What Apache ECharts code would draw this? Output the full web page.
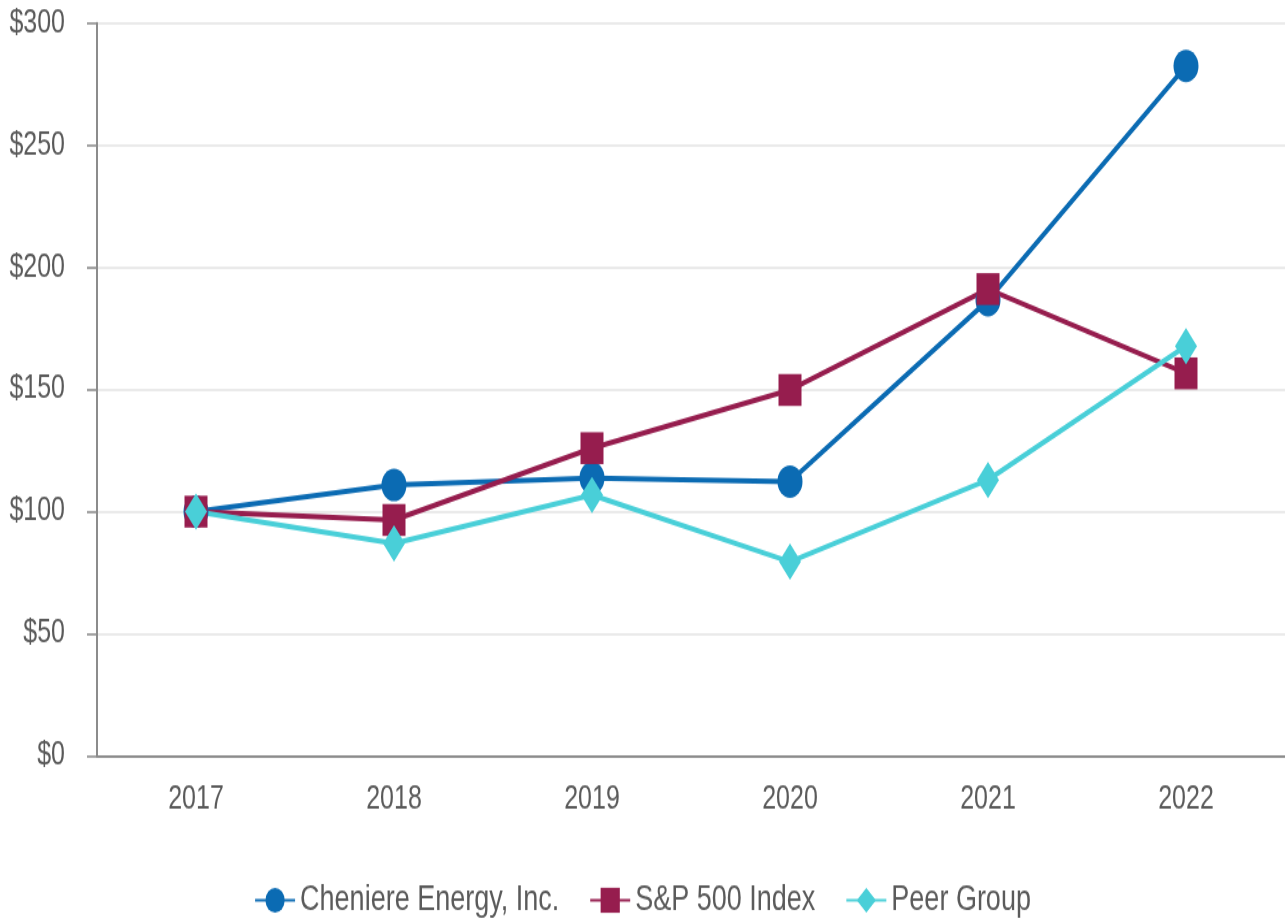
<!DOCTYPE html>
<html>
<head>
<meta charset="utf-8">
<script src="https://cdn.jsdelivr.net/npm/echarts@6/dist/echarts.min.js"></script>
<style>
  html, body { margin: 0; padding: 0; background: #fff; overflow: hidden; }
  #wrap { width: 1285px; height: 921px; overflow: hidden; }
  /* the source picture is stretched vertically, so draw at 1/1.3 height and stretch */
  #chart { width: 1285px; height: 708px; transform: scaleY(1.3); transform-origin: 0 0; }
</style>
</head>
<body>
<div id="wrap"><div id="chart"></div></div>
<script>
var myChart = echarts.init(document.getElementById('chart'));

// data
let years = ['2017', '2018', '2019', '2020', '2021', '2022']
let cheniere = [100, 110.9, 113.8, 112.3, 186.5, 282.4]
let sp500 = [100, 96.6, 126, 149.8, 191.1, 156.6]
let peer = [100, 87, 106.8, 79.5, 113, 167.8]

let fontName = '"Liberation Sans", Arial, sans-serif'
let textColor = '#5a5a5a'

function makeSeries(name, data, color, symbol, size) {
  return {
    name: name,
    type: 'line',
    data: data,
    symbol: symbol,
    symbolSize: size,
    lineStyle: { color: color, width: 4 },
    itemStyle: { color: color },
    emphasis: { disabled: true }
  }
}

let options = {
  animation: false,
  textStyle: { fontFamily: fontName },
  grid: {
    left: 97,
    right: 0,
    top: 17.7,
    bottom: 126.5,
    containLabel: false
  },
  legend: {
    top: 674,
    left: 'center',
    itemWidth: 40,
    itemHeight: 24,
    itemGap: 30,
    textStyle: { fontFamily: fontName, fontSize: 27, color: textColor },
    data: ['Cheniere Energy, Inc.', 'S&P 500 Index', 'Peer Group']
  },
  xAxis: {
    type: 'category',
    data: years,
    boundaryGap: true,
    axisLine: { lineStyle: { color: '#8c8c8c', width: 2 } },
    axisTick: { show: false },
    axisLabel: { fontSize: 25, color: textColor, margin: 21 }
  },
  yAxis: {
    type: 'value',
    min: 0,
    max: 300,
    interval: 50,
    axisLine: { show: true, lineStyle: { color: '#8c8c8c', width: 2 } },
    axisTick: { show: true, inside: false, length: 10, lineStyle: { color: '#8c8c8c', width: 1.6 } },
    axisLabel: { fontSize: 25, color: textColor, margin: 32, formatter: v => '$' + v },
    splitLine: { lineStyle: { color: '#e3e3e3', width: 1.6 } }
  },
  series: [
    makeSeries('Cheniere Energy, Inc.', cheniere, '#0b6bb3', 'circle', [25, 25]),
    makeSeries('S&P 500 Index', sp500, '#961d4e', 'rect', [23, 24.5]),
    makeSeries('Peer Group', peer, '#49cfd8', 'diamond', [22, 28])
  ]
}

myChart.setOption(options);
</script>
</body>
</html>
